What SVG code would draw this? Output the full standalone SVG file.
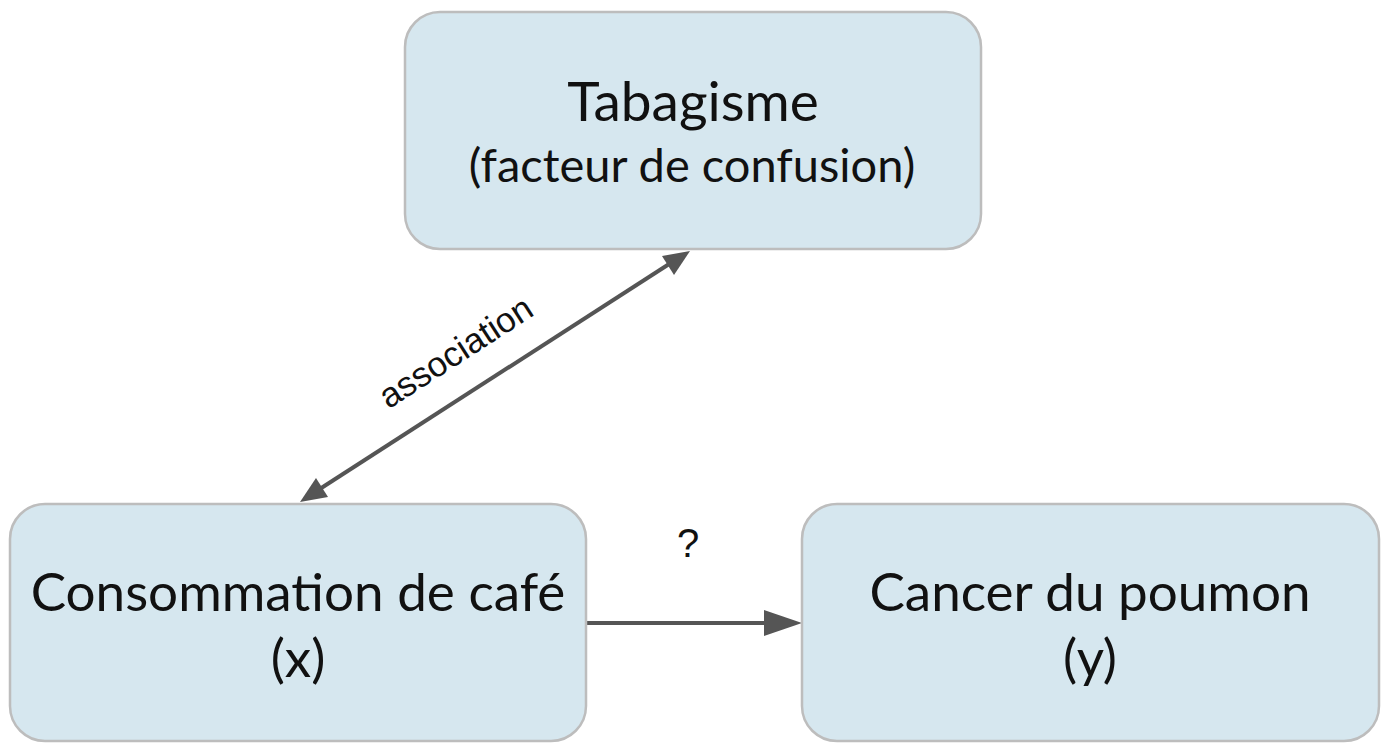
<svg xmlns="http://www.w3.org/2000/svg" width="1382" height="752" viewBox="0 0 1382 752">
<style>
.box{fill:#d6e7ef;stroke:#bdbdbd;stroke-width:2.5}
.t{font-family:Lato,"Open Sans",sans-serif;fill:#111;text-anchor:middle}
.c{stroke:#555;stroke-width:4;fill:none}
.l{font-family:"Liberation Sans",Arial,sans-serif;fill:#111;text-anchor:middle}
.h{fill:#555}
</style>
<rect width="1382" height="752" fill="#fff"/>
<g id="connectors">
<line class="c" x1="312" y1="494" x2="680" y2="257"/>
<path class="h" d="M300,502 L328,497 L316,478 z"/>
<path class="h" d="M690,251 L662,256 L674,275 z"/>
<line class="c" x1="587" y1="623" x2="775" y2="623"/>
<path class="h" d="M802,623 L764,610 L764,636 z"/>
<text class="l" font-size="35" transform="translate(462,362) rotate(-32.8)">association</text>
<text class="l" font-size="40" x="688" y="557">?</text>
</g>
<g id="tabagisme">
<rect class="box" x="405" y="12" width="576" height="237" rx="35"/>
<text class="t" x="693" y="121" font-size="55">Tabagisme</text>
<text class="t" x="692" y="182" font-size="47">(facteur de confusion)</text>
</g>
<g id="cafe">
<rect class="box" x="10" y="504" width="576" height="237" rx="35"/>
<text class="t" x="298" y="611" font-size="53">Consommation de café</text>
<text class="t" x="298" y="677" font-size="53">(x)</text>
</g>
<g id="cancer">
<rect class="box" x="802" y="504" width="577" height="237" rx="35"/>
<text class="t" x="1090" y="611" font-size="53">Cancer du poumon</text>
<text class="t" x="1090" y="677" font-size="53">(y)</text>
</g>
</svg>
